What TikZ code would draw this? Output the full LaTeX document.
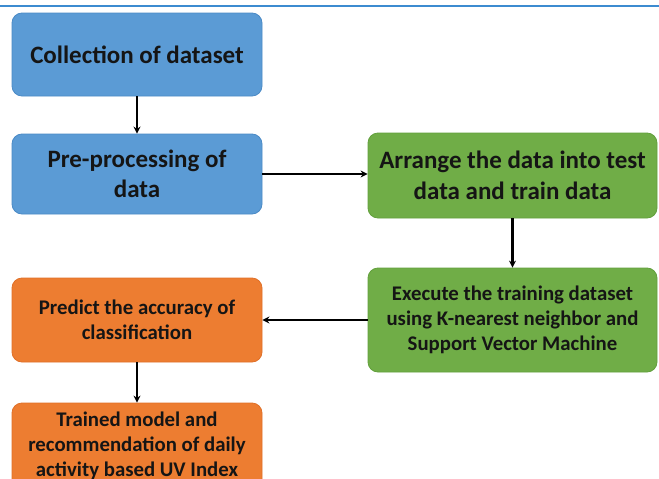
\documentclass[tikz,border=0pt]{standalone}
\usepackage{fontspec}
\setmainfont{Carlito}
\usetikzlibrary{arrows.meta}
\definecolor{bluefill}{HTML}{5B9BD5}
\definecolor{blueline}{HTML}{4A8AC6}
\definecolor{greenfill}{HTML}{70AD47}
\definecolor{greenline}{HTML}{62A03C}
\definecolor{orangefill}{HTML}{ED7D31}
\definecolor{orangeline}{HTML}{E07028}
\definecolor{topline}{HTML}{3C8BD0}
\definecolor{txt}{HTML}{151515}
\tikzset{
  box/.style={rectangle, rounded corners=10pt, line width=0.8pt, align=center,
    text=txt, font=\bfseries, inner sep=1pt},
  bluebox/.style={box, fill=bluefill, draw=blueline},
  greenbox/.style={box, fill=greenfill, draw=greenline},
  orangebox/.style={box, fill=orangefill, draw=orangeline},
  conn/.style={line width=2.2pt, -{Stealth[length=7pt,width=7pt]}}
}
\begin{document}
\begin{tikzpicture}[x=1pt,y=-1pt]
\useasboundingbox (0,0) rectangle (659,479);
\clip (0,0) rectangle (659,479);
\fill[white] (0,0) rectangle (659,479);
\draw[topline, line width=2pt] (0,6) -- (659,6);
\node[bluebox, minimum width=250pt, minimum height=83pt, font=\bfseries\fontsize{25}{30}\selectfont] (b1) at (137,54.5) {Collection of dataset};
\node[bluebox, minimum width=250pt, minimum height=80pt, font=\bfseries\fontsize{25}{30}\selectfont] (b2) at (137,174) {Pre-processing of\\data};
\node[greenbox, minimum width=289pt, minimum height=85pt, font=\bfseries\fontsize{25}{31}\selectfont] (b3) at (512.5,175.5) {Arrange the data into test\\data and train data};
\node[greenbox, minimum width=289pt, minimum height=104pt, font=\bfseries\fontsize{20.8}{25}\selectfont] (b4) at (512.5,320) {Execute the training dataset\\using K-nearest neighbor and\\Support Vector Machine};
\node[orangebox, minimum width=250pt, minimum height=84pt, font=\bfseries\fontsize{20.8}{25}\selectfont] (b5) at (137,320) {Predict the accuracy of\\classification};
\node[orangebox, minimum width=250pt, minimum height=86pt, font=\bfseries\fontsize{20.8}{25}\selectfont] (b6) at (137,446) {Trained model and\\recommendation of daily\\activity based UV Index};
\draw[conn] (b1) -- (b2);
\draw[conn] (b2.east) -- (b3.west |- b2.east);
\draw[conn] (b3) -- (b4);
\draw[conn] (b4.west |- b5.east) -- (b5.east);
\draw[conn] (b5) -- (b6);
\end{tikzpicture}
\end{document}
